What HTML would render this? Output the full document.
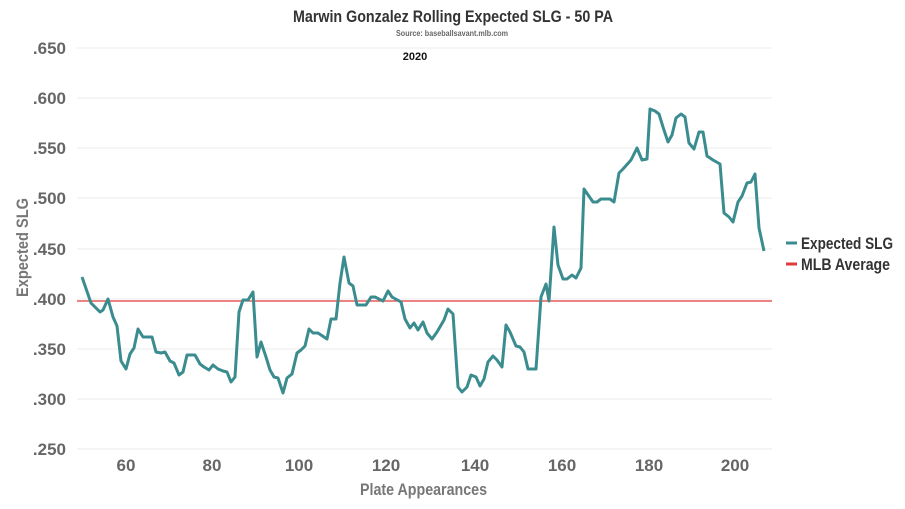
<!DOCTYPE html>
<html><head><meta charset="utf-8"><style>
html,body{margin:0;padding:0;background:#fff;}
svg{display:block;font-family:"Liberation Sans Narrow","Liberation Sans",sans-serif;}
</style></head><body>
<svg width="905" height="509" viewBox="0 0 905 509" xmlns="http://www.w3.org/2000/svg">
<text x="293" y="22" textLength="320" lengthAdjust="spacingAndGlyphs" font-size="17" font-weight="bold" fill="#333">Marwin Gonzalez Rolling Expected SLG - 50 PA</text>
<text x="396" y="36" textLength="112" lengthAdjust="spacingAndGlyphs" font-size="8" font-weight="bold" fill="#666">Source: baseballsavant.mlb.com</text>
<text x="415" y="60" text-anchor="middle" font-size="11" font-weight="bold" fill="#111">2020</text>
<g stroke="#ebebeb" stroke-width="1">
<line x1="77" x2="772" y1="48" y2="48"/><line x1="77" x2="772" y1="98" y2="98"/><line x1="77" x2="772" y1="148" y2="148"/><line x1="77" x2="772" y1="198" y2="198"/><line x1="77" x2="772" y1="249" y2="249"/><line x1="77" x2="772" y1="299" y2="299"/><line x1="77" x2="772" y1="349" y2="349"/><line x1="77" x2="772" y1="399" y2="399"/><line x1="77" x2="772" y1="449" y2="449"/>
</g>
<g font-size="17" font-weight="bold" fill="#666" text-anchor="end">
<text x="66" y="54">.650</text><text x="66" y="104">.600</text><text x="66" y="154">.550</text><text x="66" y="204">.500</text><text x="66" y="255">.450</text><text x="66" y="305">.400</text><text x="66" y="355">.350</text><text x="66" y="405">.300</text><text x="66" y="455">.250</text>
</g>
<g font-size="17" font-weight="bold" fill="#666" text-anchor="middle">
<text x="126" y="471">60</text><text x="212" y="471">80</text><text x="299" y="471">100</text><text x="386" y="471">120</text><text x="475" y="471">140</text><text x="562" y="471">160</text><text x="649" y="471">180</text><text x="735" y="471">200</text>
</g>
<text x="360" y="495" textLength="127" lengthAdjust="spacingAndGlyphs" font-size="17" font-weight="bold" fill="#777">Plate Appearances</text>
<text transform="translate(28,297) rotate(-90)" textLength="99" lengthAdjust="spacingAndGlyphs" font-size="17" font-weight="bold" fill="#777">Expected SLG</text>
<line x1="77" x2="772" y1="301" y2="301" stroke="#e03a3a" stroke-width="1.2"/>
<polyline fill="none" stroke="#3a8c8f" stroke-width="3" stroke-linejoin="round" points="82,277 91,303 95,307 100,312 103,310 108,299 113,317 117,326 121,361 126,369 130,354 134,348 138,329 143,337 152,337 156,352 161,353 165,352 170,361 174,363 179,375 183,372 187,355 195,355 200,364 204,367 209,370 213,365 218,369 223,371 227,372 231,382 235,377 239,312 243,300 248,300 253,292 257,357 261,342 266,357 270,370 274,377 278,378 283,393 287,378 292,374 297,353 301,350 305,346 309,329 313,333 318,333 327,339 331,319 336,319 340,283 344,257 349,283 353,286 357,305 366,305 371,297 375,297 383,301 388,291 392,297 401,302 405,319 410,328 414,323 418,330 423,322 427,333 432,339 437,332 444,320 448,309 453,314 458,387 462,392 467,387 471,375 476,377 480,386 484,379 488,362 493,356 497,360 502,367 506,325 510,332 516,346 520,347 524,352 528,369 536,369 541,297 546,284 549,301 554,227 558,265 563,279 567,279 572,275 576,278 581,268 584,189 593,202 597,202 601,199 610,199 614,202 619,173 623,169 631,160 637,148 642,160 647,159 650,109 655,111 659,114 663,127 668,142 672,135 676,118 681,114 685,117 689,143 694,149 699,132 703,132 707,156 713,160 720,164 724,213 729,217 733,222 738,202 742,196 747,183 751,182 755,174 759,228 764,251"/>
<line x1="786" x2="797" y1="243" y2="243" stroke="#3a8c8f" stroke-width="3"/>
<text x="801" y="249" textLength="92" lengthAdjust="spacingAndGlyphs" font-size="17" font-weight="bold" fill="#333">Expected SLG</text>
<line x1="786" x2="797" y1="264" y2="264" stroke="#e03a3a" stroke-width="3"/>
<text x="801" y="270" textLength="89" lengthAdjust="spacingAndGlyphs" font-size="17" font-weight="bold" fill="#333">MLB Average</text>
</svg>
</body></html>
